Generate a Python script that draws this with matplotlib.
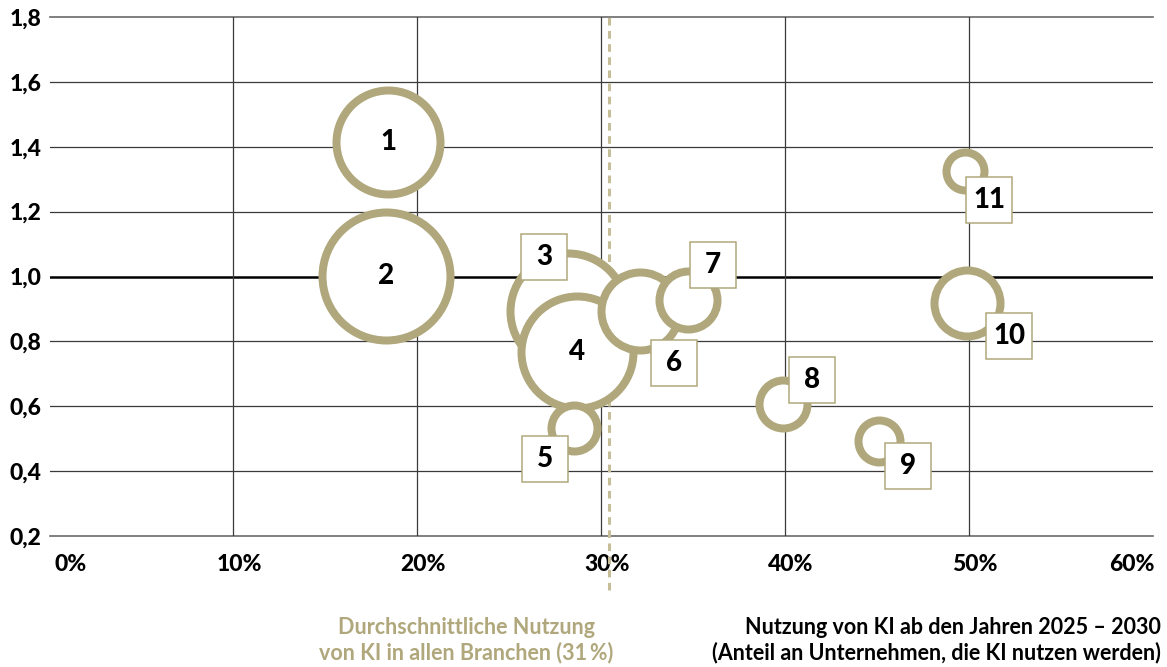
import matplotlib
matplotlib.use("Agg")
import matplotlib.pyplot as plt
from matplotlib.transforms import offset_copy, ScaledTranslation

plt.rcParams['font.family'] = ['Lato', 'DejaVu Sans']
plt.rcParams['font.weight'] = 'bold'

# ── Daten ─────────────────────────────────────────────────────────────────────
nummern = ['1', '2', '3', '4', '5', '6', '7', '8', '9', '10', '11']
nutzung = [18.4, 18.3, 28.2, 28.7, 28.5, 32.1, 34.7, 39.9, 45.1, 49.9, 49.8]   # % x-Achse
index_y = [1.415, 1.003, 0.895, 0.766, 0.532, 0.895, 0.929, 0.606, 0.492, 0.917, 1.326]
groesse = [56, 68, 62, 60, 27, 43, 33, 28, 25, 37, 23]   # Blasengröße (rel.)
durchschnitt = 30.4                                        # gestrichelte Linie

x_ticks = [0, 10, 20, 30, 40, 50, 60]
x_labels = ['0%', '10%', '20%', '30%', '40%', '50%', '60%']
y_ticks = [0.2, 0.4, 0.6, 0.8, 1.0, 1.2, 1.4, 1.6, 1.8]
y_labels = ['0,2', '0,4', '0,6', '0,8', '1,0', '1,2', '1,4', '1,6', '1,8']

# Lage der Nummernkästchen (Pixel relativ zur Blase, None = Zahl in der Blase)
label_off = [None, None, (-24, -54), None, (-29, 31), (34, 52),
             (25, -35), (29, -24), (29, 25), (42, 33), (24, 29)]

BEIGE = '#B0A87C'
BEIGE_HELL = '#C6BE98'

# ── Figur ─────────────────────────────────────────────────────────────────────
fig = plt.figure(figsize=(11.67, 6.67), dpi=100)
ax = fig.add_axes([49.5 / 1167, 1 - 536 / 667, 1103.5 / 1167, 519 / 667])
ax.set_xlim(0, 60)
ax.set_ylim(0.2, 1.8)
for s in ax.spines.values():
    s.set_visible(False)

# Gitter
for yt in y_ticks:
    if yt == 1.0:
        ax.axhline(yt, color='black', lw=1.8, zorder=1)
    elif yt in (0.2, 1.8):
        ax.axhline(yt, color='#6a6a6a', lw=1.2, zorder=1, clip_on=False)
    else:
        ax.axhline(yt, color='#3a3a3a', lw=0.9, zorder=1)
for xt in x_ticks[1:-1]:
    ax.axvline(xt, color='#3a3a3a', lw=0.9, zorder=1)

# Durchschnittslinie
ax.axvline(durchschnitt, ymin=-0.105, ymax=1.0, color=BEIGE_HELL, lw=2.2,
           linestyle=(0, (2.5, 1.8)), clip_on=False, zorder=2)

# Blasen
lw_px = 8
for i in range(len(nummern)):
    d_pt = 2 * (groesse[i] - lw_px / 2) * 0.72
    ax.scatter(nutzung[i], index_y[i], s=d_pt ** 2, facecolor='white',
               edgecolor=BEIGE, linewidths=lw_px * 0.72, zorder=3 + i)

# Nummern
for i, nr in enumerate(nummern):
    off = label_off[i]
    if off is None:
        ax.text(nutzung[i], index_y[i], nr, ha='center', va='center',
                fontsize=20, fontweight='black', zorder=30)
    else:
        tr = offset_copy(ax.transData, fig=fig, x=off[0], y=-off[1], units='dots')
        ax.plot(nutzung[i], index_y[i], marker='s', ms=33.5, mfc='white',
                mec=BEIGE, mew=1.1, transform=tr, zorder=20, clip_on=False)
        ax.text(nutzung[i], index_y[i], nr, ha='center', va='center',
                fontsize=20, fontweight='black', transform=tr, zorder=30)

# Achsenbeschriftung
ax.set_yticks(y_ticks, y_labels)
ax.set_xticks(x_ticks, x_labels)
ax.tick_params(axis='both', length=0, labelsize=16.5)
ax.tick_params(axis='y', pad=6)
ax.tick_params(axis='x', pad=13)
xl = ax.get_xticklabels()
for j, lab in enumerate(xl):
    lab.set_fontweight('black')
    if j == 0:
        lab.set_ha('left')
        dx = 5
    elif j == len(xl) - 1:
        lab.set_ha('right')
        dx = 2
    else:
        dx = 6
    lab.set_transform(lab.get_transform() + ScaledTranslation(dx / 100, 0, fig.dpi_scale_trans))
for lab in ax.get_yticklabels():
    lab.set_fontweight('black')

fig.text(466 / 1167, 1 - 640 / 667,
         'Durchschnittliche Nutzung\nvon KI in allen Branchen (31\u2009%)',
         ha='center', va='center', color=BEIGE, fontsize=15.5, fontweight='bold',
         linespacing=1.2)
fig.text(1161 / 1167, 1 - 640 / 667,
         'Nutzung von KI ab den Jahren 2025 – 2030\n(Anteil an Unternehmen, die KI nutzen werden)',
         ha='right', va='center', color='black', fontsize=15.5, fontweight='bold',
         linespacing=1.2, multialignment='right')

fig.savefig('out.png', dpi=100)
